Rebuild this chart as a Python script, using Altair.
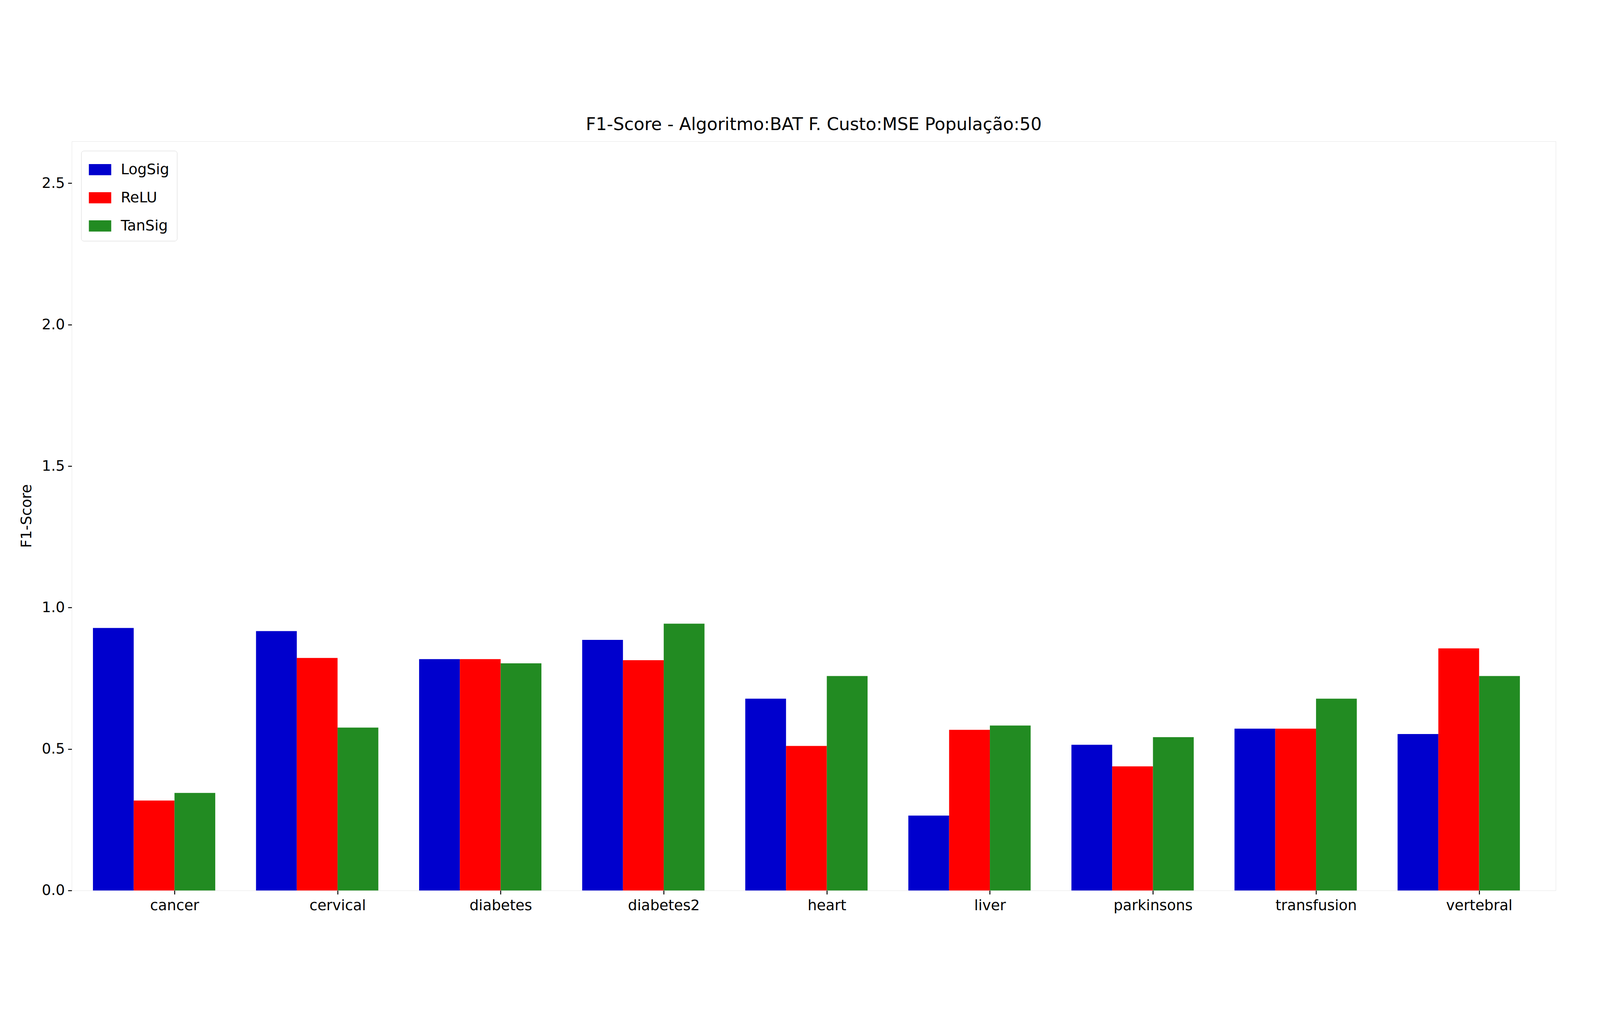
import altair as alt
import pandas as pd

datasets = ["cancer", "cervical", "diabetes", "diabetes2", "heart",
            "liver", "parkinsons", "transfusion", "vertebral"]
series = ["LogSig", "ReLU", "TanSig"]
colors = ["#0000cd", "#ff0000", "#228b22"]
logsig = [0.928, 0.917, 0.818, 0.886, 0.678, 0.265, 0.515, 0.572, 0.553]
relu = [0.318, 0.822, 0.818, 0.814, 0.511, 0.568, 0.439, 0.572, 0.856]
tansig = [0.345, 0.576, 0.803, 0.943, 0.758, 0.583, 0.542, 0.678, 0.758]

rows = []
for k, (name, vals) in enumerate(zip(series, [logsig, relu, tansig])):
    for i, v in enumerate(vals):
        start = i - 0.5 + 0.25 * k
        rows.append({"x0": start, "x1": start + 0.25, "score": v, "func": name})
df = pd.DataFrame(rows)

FONT = "DejaVu Sans"
names_js = "[" + ",".join(f"'{d}'" for d in datasets) + "]"

chart = (
    alt.Chart(df)
    .mark_bar()
    .encode(
        x=alt.X("x0:Q", scale=alt.Scale(domain=[-0.63, 8.47], nice=False, zero=False),
                axis=alt.Axis(values=list(range(len(datasets))), title=None, grid=False,
                              labelExpr=f"{names_js}[round(datum.value)]",
                              labelFontSize=46, labelColor="black", tickSize=12,
                              tickWidth=3, tickColor="black", domain=False,
                              labelPadding=14, labelFont=FONT, labelLimit=0)),
        x2="x1:Q",
        y=alt.Y("score:Q", scale=alt.Scale(domain=[0, 2.648], nice=False),
                axis=alt.Axis(values=[0, 0.5, 1.0, 1.5, 2.0, 2.5], format=".1f",
                              title="F1-Score", titleFontSize=46, titleFontWeight="normal",
                              titleFont=FONT, titlePadding=24, grid=False,
                              labelFontSize=46, labelColor="black", tickSize=12,
                              tickWidth=3, tickColor="black", domain=False,
                              labelPadding=10, labelFont=FONT)),
        y2=alt.datum(0),
        color=alt.Color("func:N", scale=alt.Scale(domain=series, range=colors),
                        legend=alt.Legend(title=None, orient="top-left",
                                          labelFontSize=46, labelFont=FONT,
                                          symbolType="M-1,-0.5L1,-0.5L1,0.5L-1,0.5Z",
                                          symbolSize=5000, symbolStrokeWidth=0,
                                          symbolOpacity=1, rowPadding=30,
                                          padding=24, offset=30, labelOffset=30,
                                          strokeColor="#cccccc", cornerRadius=8,
                                          fillColor="white")),
    )
    .properties(
        width=5040, height=2610,
        autosize=alt.AutoSizeParams(type="fit", contains="padding"),
        title=alt.TitleParams("F1-Score - Algoritmo:BAT F. Custo:MSE População:50",
                              fontSize=55, font=FONT, fontWeight="normal", offset=24),
    )
    .configure_view(stroke="black", strokeWidth=3)
    .configure(background="white", padding={"left": 50, "top": 50, "right": 130, "bottom": 40})
)

chart.save("out.html", embed_options={"renderer": "svg", "actions": False})
